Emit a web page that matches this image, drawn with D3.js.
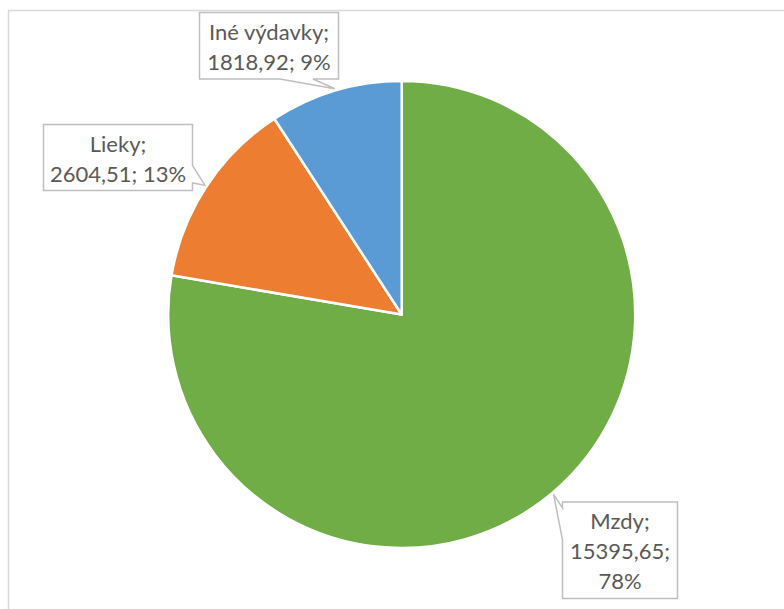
<!DOCTYPE html>
<html>
<head>
<meta charset="utf-8">
<script src="https://cdn.jsdelivr.net/npm/d3@7"></script>
<style>
  body { margin: 0; background: white; }
  svg { display: block; }
</style>
</head>
<body>
<div id="chart"></div>
<script>
// data
const categories = ["Mzdy", "Lieky", "Iné výdavky"];
const values = [15395.65, 2604.51, 1818.92];
const percentLabels = ["78%", "13%", "9%"];
const colors = ["#70AD47", "#ED7D31", "#5B9BD5"];

// label box layout (x, y, w, h, side of the callout, wedge base)
const boxes = [
  { x: 562.5, y: 502, w: 115, h: 96.5, side: "left", b1: 508, b2: 540, lines: 3 },
  { x: 43.5, y: 124.5, w: 149, h: 66, side: "right", b1: 165.5, b2: 183, lines: 2 },
  { x: 199.5, y: 12.5, w: 139, h: 66.5, side: "bottom", b1: 280, b2: 313, lines: 2 }
];

const w = 784;
const h = 609;
const cx = 401.7;
const cy = 314.5;
const radius = 233.5;
const lineH = 30;

const svg = d3.select("#chart")
  .append("svg")
  .attr("width", w)
  .attr("height", h);

// chart area border
svg.append("rect")
  .attr("x", 8.5)
  .attr("y", 10.5)
  .attr("width", 800)
  .attr("height", 620)
  .attr("fill", "white")
  .attr("stroke", "#d9d9d9")
  .attr("stroke-width", 1.5);

const pie = d3.pie().sort(null).value(d => d);
const arcs = pie(values);
const arc = d3.arc().innerRadius(0).outerRadius(radius);

const g = svg.append("g")
  .attr("transform", "translate(" + cx + "," + cy + ")");

g.selectAll("path")
  .data(arcs)
  .enter()
  .append("path")
  .attr("d", arc)
  .attr("fill", (d, i) => colors[i])
  .attr("stroke", "white")
  .attr("stroke-width", 2.5)
  .attr("stroke-linejoin", "round");

// callout point just outside the slice middle
function apex(d) {
  const a = (d.startAngle + d.endAngle) / 2;
  const r = radius + 2;
  return [cx + r * Math.sin(a), cy - r * Math.cos(a)];
}

function calloutPath(b, p) {
  const x0 = b.x, y0 = b.y, x1 = b.x + b.w, y1 = b.y + b.h;
  if (b.side === "bottom") {
    return "M" + x0 + "," + y0 + "H" + x1 + "V" + y1 + "H" + b.b2 + "L" + p[0] + "," + p[1] + "L" + b.b1 + "," + y1 + "H" + x0 + "Z";
  } else if (b.side === "right") {
    return "M" + x0 + "," + y0 + "H" + x1 + "V" + b.b1 + "L" + p[0] + "," + p[1] + "L" + x1 + "," + b.b2 + "V" + y1 + "H" + x0 + "Z";
  } else {
    return "M" + x0 + "," + y0 + "H" + x1 + "V" + y1 + "H" + x0 + "V" + b.b2 + "L" + p[0] + "," + p[1] + "L" + x0 + "," + b.b1 + "Z";
  }
}

const labels = svg.selectAll("g.label")
  .data(arcs)
  .enter()
  .append("g")
  .attr("class", "label");

labels.append("path")
  .attr("d", (d, i) => calloutPath(boxes[i], apex(d)))
  .attr("fill", "white")
  .attr("stroke", "#bfbfbf")
  .attr("stroke-width", 1.5);

labels.each(function (d, i) {
  const b = boxes[i];
  const lines = [categories[i] + ";"];
  const valTxt = d3.format(".2f")(values[i]).replace(".", ",");
  if (b.lines === 3) {
    lines.push(valTxt + ";", percentLabels[i]);
  } else {
    lines.push(valTxt + "; " + percentLabels[i]);
  }
  const t = d3.select(this).append("text")
    .attr("text-anchor", "middle")
    .style("font-family", "Lato, 'Open Sans', sans-serif")
    .style("font-size", "22px")
    .attr("fill", "#595959");
  lines.forEach((l, k) => {
    t.append("tspan")
      .attr("x", b.x + b.w / 2)
      .attr("y", b.y + 27 + k * lineH)
      .text(l);
  });
});
</script>
</body>
</html>
